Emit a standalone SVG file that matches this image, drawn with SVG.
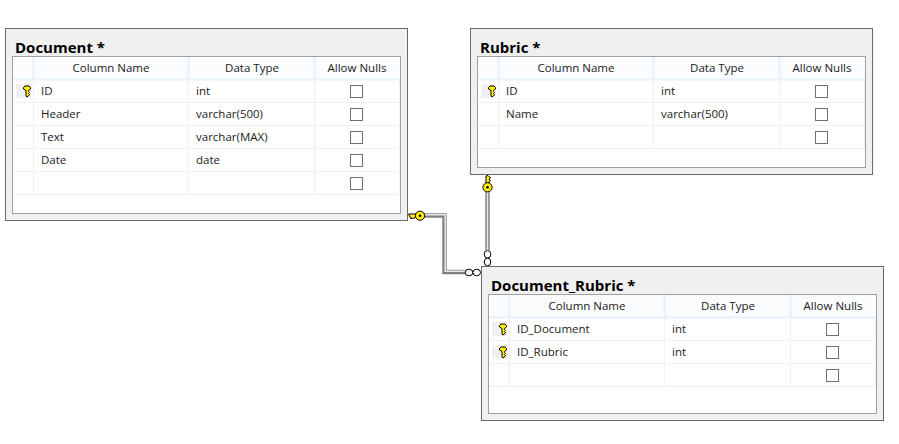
<svg xmlns="http://www.w3.org/2000/svg" width="899" height="444" viewBox="0 0 899 444">
<style>
.outer{fill:#f0f0f0;stroke:#696969;stroke-width:1}
.inner{fill:#fff;stroke:#a0a0a0;stroke-width:1}
.hdr{fill:#fbfcfe}
.hl{stroke:#e8f0fb;stroke-width:2;fill:none}
.gl{stroke:#f0f0f0;stroke-width:1;fill:none}
.cb{fill:#fff;stroke:#707070;stroke-width:1}
.t{font-family:"Open Sans","Noto Sans",sans-serif;font-size:11.5px;fill:#1a1a1a}
.m{text-anchor:middle}
.title{font-family:"Open Sans","Noto Sans",sans-serif;font-size:15px;font-weight:700;fill:#000}
.sel{fill:#f0f0f0}
.rel1{stroke:#808080;stroke-width:4.400;fill:none}
.rel2{stroke:#e8e8e8;stroke-width:1.500;fill:none}
.ring{fill:#fff;stroke:#000;stroke-width:1}
.kf{fill:#ffee00;stroke:#000;stroke-width:1}
</style>
<defs>
<path id="key" class="kf" d="M-3.500-3-2-4.500H2L3.500-3V-1.500L1.500 0V1L2.500 2 1.500 3 2.500 4 1.500 5.500 0 6.500-1 5.500V0L-3.500-1.500Z"/>
<rect id="box" x="0" y="0" width="12" height="12" class="cb"/>
</defs>
<g id="connectors">
<path class="rel1" d="M424 215.500H444.500V272H466"/>
<path class="rel2" d="M424 214.800H445.200V271.200H466"/>
<path class="rel1" d="M487.500 192V250"/>
<path class="rel2" d="M487.500 192V250"/>
<ellipse cx="469" cy="272.500" rx="3.800" ry="3.300" class="ring"/><ellipse cx="476.700" cy="272.500" rx="3.800" ry="3.300" class="ring"/>
<ellipse cx="487.500" cy="254.300" rx="3.300" ry="3.800" class="ring"/><ellipse cx="487.500" cy="262" rx="3.300" ry="3.800" class="ring"/>
<path class="kf" d="M408.500 214H416V217.500H414.500L413.500 219 412 217.500 411 219 410 217Z"/>
<circle cx="420" cy="215.700" r="4.600" class="kf"/><circle cx="420" cy="215.700" r="1.300" fill="#000"/>
<path class="kf" d="M486 176V183H489V181.500L490.500 180.500 489 179 490.500 178 488 175.500Z"/>
<circle cx="487.500" cy="187.300" r="4.600" class="kf"/><circle cx="487.500" cy="187.300" r="1.300" fill="#000"/>
</g>
<g id="document">
<rect class="outer" x="5.500" y="28.500" width="402" height="192"/>
<rect class="inner" x="12.500" y="56.500" width="388" height="157"/>
<rect class="hdr" x="13" y="57" width="387" height="22"/>
<path class="hl" d="M13 79.500H400M33.500 57V79M188.500 57V79M314.500 57V79"/>
<path class="gl" d="M13 102.500H399M13 125.500H399M13 148.500H399M13 171.500H399M13 194.500H399M33.500 80V194M188.500 80V194M314.500 80V194M399.500 80V194"/>
<rect class="sel" x="16" y="84" width="15" height="14"/>
<use href="#key" x="27" y="90.500"/>
<text class="title" x="15" y="53">Document *</text>
<text class="t m" x="111" y="72">Column Name</text><text class="t m" x="252" y="72">Data Type</text><text class="t m" x="357" y="72">Allow Nulls</text>
<text class="t" x="41" y="95">ID</text><text class="t" x="196" y="95">int</text>
<text class="t" x="41" y="118">Header</text><text class="t" x="196" y="118">varchar(500)</text>
<text class="t" x="41" y="141">Text</text><text class="t" x="196" y="141">varchar(MAX)</text>
<text class="t" x="41" y="164">Date</text><text class="t" x="196" y="164">date</text>
<use href="#box" x="350.500" y="85.500"/><use href="#box" x="350.500" y="108.500"/><use href="#box" x="350.500" y="131.500"/><use href="#box" x="350.500" y="154.500"/><use href="#box" x="350.500" y="177.500"/>
</g>
<g id="rubric">
<rect class="outer" x="470.500" y="28.500" width="402" height="146"/>
<rect class="inner" x="477.500" y="56.500" width="388" height="111"/>
<rect class="hdr" x="478" y="57" width="387" height="22"/>
<path class="hl" d="M478 79.500H865M498.500 57V79M653.500 57V79M779.500 57V79"/>
<path class="gl" d="M478 102.500H864M478 125.500H864M478 148.500H864M498.500 80V148M653.500 80V148M779.500 80V148M864.500 80V148"/>
<rect class="sel" x="481" y="84" width="15" height="14"/>
<use href="#key" x="492" y="90.500"/>
<text class="title" x="480" y="53">Rubric *</text>
<text class="t m" x="576" y="72">Column Name</text><text class="t m" x="717" y="72">Data Type</text><text class="t m" x="822" y="72">Allow Nulls</text>
<text class="t" x="506" y="95">ID</text><text class="t" x="661" y="95">int</text>
<text class="t" x="506" y="118">Name</text><text class="t" x="661" y="118">varchar(500)</text>
<use href="#box" x="815.500" y="85.500"/><use href="#box" x="815.500" y="108.500"/><use href="#box" x="815.500" y="131.500"/>
</g>
<g id="document_rubric">
<rect class="outer" x="481.500" y="266.500" width="402" height="154"/>
<rect class="inner" x="488.500" y="294.500" width="388" height="119"/>
<rect class="hdr" x="489" y="295" width="387" height="22"/>
<path class="hl" d="M489 317.500H876M509.500 295V317M664.500 295V317M790.500 295V317"/>
<path class="gl" d="M489 340.500H875M489 363.500H875M489 386.500H875M509.500 318V386M664.500 318V386M790.500 318V386M875.500 318V386"/>
<rect class="sel" x="492" y="322" width="15" height="14"/><rect class="sel" x="492" y="345" width="15" height="14"/>
<use href="#key" x="503" y="328.500"/><use href="#key" x="503" y="351.500"/>
<text class="title" x="491" y="291">Document_Rubric *</text>
<text class="t m" x="587" y="310">Column Name</text><text class="t m" x="728" y="310">Data Type</text><text class="t m" x="833" y="310">Allow Nulls</text>
<text class="t" x="517" y="333">ID_Document</text><text class="t" x="672" y="333">int</text>
<text class="t" x="517" y="356">ID_Rubric</text><text class="t" x="672" y="356">int</text>
<use href="#box" x="826.500" y="323.500"/><use href="#box" x="826.500" y="346.500"/><use href="#box" x="826.500" y="369.500"/>
</g>
</svg>
